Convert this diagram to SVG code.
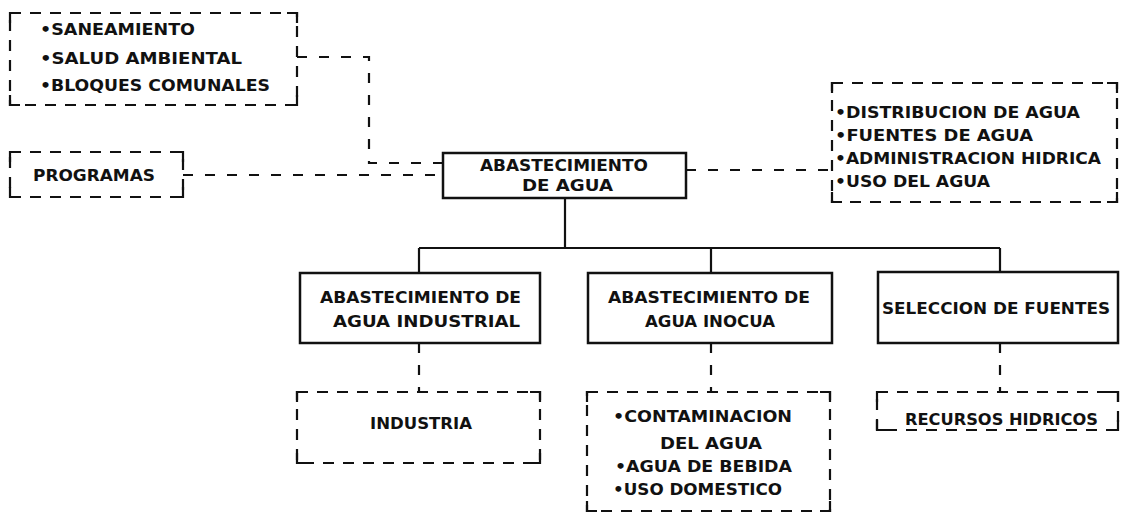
<svg xmlns="http://www.w3.org/2000/svg" width="1125" height="515" viewBox="0 0 1125 515">
<style>
  .solid { fill: none; stroke: #111; stroke-width: 2.5; }
  .dash { fill: none; stroke: #111; stroke-width: 2.2; stroke-dasharray: 11 9; }
  .corner { fill: none; stroke: #111; stroke-width: 2.2; }
  .line { fill: none; stroke: #111; stroke-width: 2.2; }
  .dline { fill: none; stroke: #111; stroke-width: 2.2; stroke-dasharray: 10 12; }
  text { font-family: "DejaVu Sans", "Liberation Sans", sans-serif; font-weight: bold; fill: #111; font-size: 15px; }
  .big { font-size: 16.5px; }
</style>
<rect width="1125" height="515" fill="#fff"/>

<g id="connectors">
  <path class="dline" d="M297,57 H369 V163 H443"/>
  <path class="dline" d="M183,175 H443"/>
  <path class="dline" d="M686,170 H832"/>
  <path class="line" d="M565,198 V248 M419,248 H1000 M419,248 V273 M711,248 V273 M1000,248 V272"/>
  <path class="dline" d="M419,343 V392 M711,343 V392 M1000,343 V392"/>
</g>

<g id="node-saneamiento">
  <rect class="dash" x="10" y="13" width="287" height="92"/>
  <path class="corner" d="M10,23 V13 H20 M287,13 H297 V23 M297,95 V105 H287 M20,105 H10 V95"/>
  <text x="40" y="35" textLength="155" lengthAdjust="spacingAndGlyphs">•SANEAMIENTO</text>
  <text x="40" y="64" textLength="202" lengthAdjust="spacingAndGlyphs">•SALUD AMBIENTAL</text>
  <text x="40" y="91" textLength="230" lengthAdjust="spacingAndGlyphs">•BLOQUES COMUNALES</text>
</g>

<g id="node-programas">
  <rect class="dash" x="10" y="152" width="173" height="45"/>
  <path class="corner" d="M10,162 V152 H20 M173,152 H183 V162 M183,187 V197 H173 M20,197 H10 V187"/>
  <text x="33" y="181" textLength="122" lengthAdjust="spacingAndGlyphs">PROGRAMAS</text>
</g>

<g id="node-abastecimiento">
  <rect class="solid" x="443" y="153" width="243" height="45"/>
  <text x="480" y="171" textLength="168" lengthAdjust="spacingAndGlyphs">ABASTECIMIENTO</text>
  <text x="522" y="191" textLength="91" lengthAdjust="spacingAndGlyphs">DE AGUA</text>
</g>

<g id="node-distribucion">
  <rect class="dash" x="832" y="83" width="285" height="119"/>
  <path class="corner" d="M832,93 V83 H842 M1107,83 H1117 V93 M1117,192 V202 H1107 M842,202 H832 V192"/>
  <text x="835" y="118" textLength="245" lengthAdjust="spacingAndGlyphs">•DISTRIBUCION DE AGUA</text>
  <text x="835" y="141" textLength="198" lengthAdjust="spacingAndGlyphs">•FUENTES DE AGUA</text>
  <text x="835" y="164" textLength="266" lengthAdjust="spacingAndGlyphs">•ADMINISTRACION HIDRICA</text>
  <text x="835" y="187" textLength="155" lengthAdjust="spacingAndGlyphs">•USO DEL AGUA</text>
</g>

<g id="node-industrial">
  <rect class="solid" x="300" y="273" width="240" height="70"/>
  <text class="big" x="320" y="303" textLength="201" lengthAdjust="spacingAndGlyphs">ABASTECIMIENTO DE</text>
  <text class="big" x="333" y="327" textLength="187" lengthAdjust="spacingAndGlyphs">AGUA INDUSTRIAL</text>
</g>

<g id="node-inocua">
  <rect class="solid" x="588" y="273" width="244" height="70"/>
  <text class="big" x="608" y="303" textLength="202" lengthAdjust="spacingAndGlyphs">ABASTECIMIENTO DE</text>
  <text class="big" x="645" y="327" textLength="130" lengthAdjust="spacingAndGlyphs">AGUA INOCUA</text>
</g>

<g id="node-seleccion">
  <rect class="solid" x="878" y="272" width="240" height="71"/>
  <text class="big" x="882" y="314" textLength="228" lengthAdjust="spacingAndGlyphs">SELECCION DE FUENTES</text>
</g>

<g id="node-industria">
  <rect class="dash" x="297" y="392" width="243" height="71"/>
  <path class="corner" d="M297,402 V392 H307 M530,392 H540 V402 M540,453 V463 H530 M307,463 H297 V453"/>
  <text class="big" x="370" y="429" textLength="102" lengthAdjust="spacingAndGlyphs">INDUSTRIA</text>
</g>

<g id="node-contaminacion">
  <rect class="dash" x="587" y="392" width="243" height="119"/>
  <path class="corner" d="M587,402 V392 H597 M820,392 H830 V402 M830,501 V511 H820 M597,511 H587 V501"/>
  <text class="big" x="613" y="422" textLength="179" lengthAdjust="spacingAndGlyphs">•CONTAMINACION</text>
  <text class="big" x="660" y="449" textLength="102" lengthAdjust="spacingAndGlyphs">DEL AGUA</text>
  <text class="big" x="615" y="472" textLength="177" lengthAdjust="spacingAndGlyphs">•AGUA DE BEBIDA</text>
  <text class="big" x="613" y="495" textLength="169" lengthAdjust="spacingAndGlyphs">•USO DOMESTICO</text>
</g>

<g id="node-recursos">
  <rect class="dash" x="877" y="392" width="241" height="38"/>
  <path class="corner" d="M877,402 V392 H887 M1108,392 H1118 V402 M1118,420 V430 H1108 M887,430 H877 V420"/>
  <text class="big" x="905" y="425" textLength="193" lengthAdjust="spacingAndGlyphs">RECURSOS HIDRICOS</text>
</g>
</svg>
